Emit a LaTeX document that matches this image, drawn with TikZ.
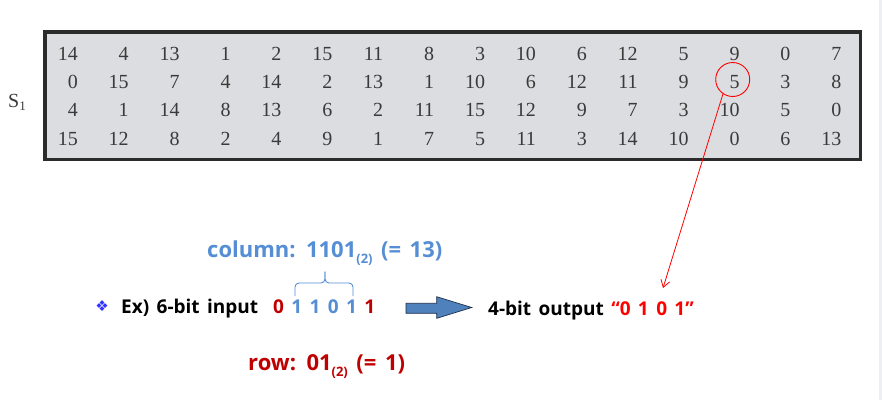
\documentclass[tikz,border=0pt]{standalone}
\usepackage{fontspec}
\setmainfont{Liberation Serif}
\newfontfamily\osans[WordSpace=1.5]{Open Sans}
\newfontfamily\dejavu{DejaVu Sans}
\usetikzlibrary{arrows.meta}
\definecolor{boxfill}{HTML}{DCDDE0}
\definecolor{boxline}{HTML}{2B2B2B}
\definecolor{numcol}{HTML}{3A3A3A}
\definecolor{cb}{HTML}{558ED5}
\definecolor{dr}{HTML}{C00000}
\definecolor{rr}{HTML}{FF0000}
\definecolor{bul}{HTML}{3333FF}
\definecolor{arrfill}{HTML}{4F81BD}
\definecolor{arrline}{HTML}{1F2F4A}
\definecolor{strip}{HTML}{EEEFF2}
\tikzset{
  num/.style={font=\fontsize{20}{22}\selectfont, text=numcol, inner sep=0pt, anchor=base east},
  lbl/.style={font=\osans\bfseries\fontsize{19}{22}\selectfont, inner sep=0pt, anchor=base west},
  biglbl/.style={font=\osans\bfseries\fontsize{22}{24}\selectfont, inner sep=0pt, anchor=base west},
}
\newcommand{\basetwo}{\raisebox{-6pt}{\fontsize{13}{13}\selectfont (2)}}
\begin{document}
\begin{tikzpicture}[x=1pt,y=-1pt]
\useasboundingbox (0,0) rectangle (882,400);
\fill[white] (0,0) rectangle (882,400);
\fill[strip] (879,0) rectangle (882,400);
% S-box table
\draw[boxline, fill=boxfill, line width=3.5pt] (44.75,31.75) rectangle (860.25,159.25);
\node[font=\fontsize{20}{22}\selectfont, text=numcol, inner sep=0pt, anchor=base west] (s1) at (8,107) {S\raisebox{-3pt}{\fontsize{13}{14}\selectfont 1}};
\foreach \rowv [count=\r] in {
  {14,4,13,1,2,15,11,8,3,10,6,12,5,9,0,7},
  {0,15,7,4,14,2,13,1,10,6,12,11,9,5,3,8},
  {4,1,14,8,13,6,2,11,15,12,9,7,3,10,5,0},
  {15,12,8,2,4,9,1,7,5,11,3,14,10,0,6,13}}{
  \foreach \v [count=\c] in \rowv {
    \node[num] (n\r-\c) at ({78+50.9*(\c-1)},{60+28.4*(\r-1)}) {\v};
  }
}
\node[draw=rr, line width=0.9pt, circle, minimum size=34pt, inner sep=0pt] (c) at (732.7,79.5) {};
% bottom texts
\node[biglbl, text=cb] (col) at (207,257) {column: 1101\basetwo\ (= 13)};
\node[font=\dejavu\fontsize{15}{16}\selectfont, text=bul, inner sep=0pt] (bullet) at (102,306) {❖};
\node[lbl, text=black] (ex) at (121,313) {Ex) 6-bit input};
\node[lbl] (bits) at (273,313) {\textcolor{dr}{0} \textcolor{cb}{1 1 0 1} \textcolor{dr}{1}};
\node[biglbl, text=dr] (row) at (248,370) {row: 01\basetwo\ (= 1)};
\node[lbl, text=black] (out) at (488,315) {4-bit output \textcolor{rr}{“0 1 0 1”}};
% brace
\draw[cb, line width=0.9pt, rounded corners=4pt] (295,296) -- (295,283) -- (325,283) -- (325,271.5);
\draw[cb, line width=0.9pt, rounded corners=4pt] (353,296) -- (353,283) -- (325,283) -- (325,271.5);
% block arrow
\draw[arrline, fill=arrfill, line width=0.7pt] (406,303.3) -- (436.7,303.3) -- (436.7,296.7) -- (471.7,307.5) -- (436.7,318.3) -- (436.7,313.3) -- (406,313.3) -- cycle;
% red pointer arrow
\coordinate (tip) at (663,288);
\draw[rr, line width=0.8pt, -{Straight Barb[length=7pt,width=9pt]}] (c.-124) -- (tip);
\end{tikzpicture}
\end{document}
